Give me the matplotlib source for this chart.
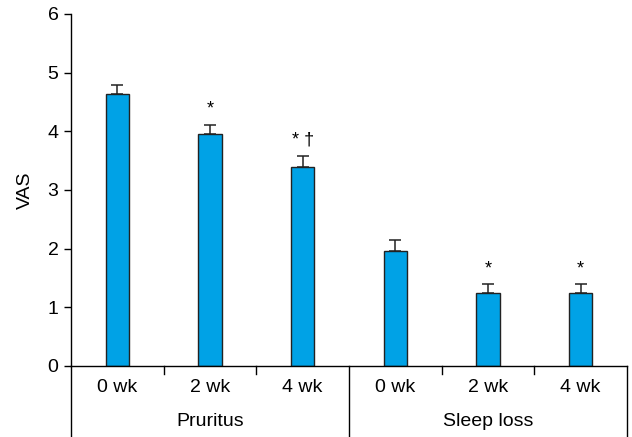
import matplotlib
matplotlib.use("Agg")
import matplotlib.pyplot as plt
import numpy as np

plt.rcParams['font.family'] = ['Liberation Sans', 'DejaVu Sans']

groups = ["Pruritus", "Sleep loss"]
weeks = ["0 wk", "2 wk", "4 wk"]
values = [4.63, 3.96, 3.39, 1.96, 1.24, 1.24]
errors = [0.16, 0.15, 0.19, 0.19, 0.15, 0.15]
marks = ["", "*", "* \u2020", "", "*", "*"]

fig = plt.figure(figsize=(6.32, 4.37), dpi=100)
ax = fig.add_axes([71/632, 71/437, 556/632, 352/437])

n = len(values)
x = np.arange(n) + 0.5
ax.bar(x, values, width=0.25, color="#00A2E6", edgecolor="#222222", linewidth=1.0, zorder=2)
ax.errorbar(x, values, yerr=[np.zeros(n), errors], fmt="none", ecolor="#222222",
            elinewidth=1.1, capsize=4.3, capthick=1.1, zorder=1)
for xi, v, e, m in zip(x, values, errors, marks):
    if m:
        ax.text(xi, v + e + 0.12, m, ha="center", va="bottom", fontsize=13)

ax.set_xlim(0, n)
ax.set_ylim(0, 6)
ax.set_yticks(range(0, 7))
ax.tick_params(axis="y", labelsize=14, length=5, width=1, direction="out", pad=4)
ax.set_xticks([])
ax.spines["top"].set_visible(False)
ax.spines["right"].set_visible(False)
ax.spines["left"].set_linewidth(1)
ax.spines["bottom"].set_linewidth(1)
ax.set_ylabel("VAS", fontsize=14, labelpad=10)

trans = ax.get_xaxis_transform()
bottom = -71/352
# group dividers
for xd in [0, 3, 6]:
    ax.plot([xd, xd], [0, bottom], transform=trans, color="black", lw=1, clip_on=False)
# minor ticks
for xt in [1, 2, 4, 5]:
    ax.plot([xt, xt], [0, -8/352], transform=trans, color="black", lw=1, clip_on=False)
# labels
for i in range(n):
    ax.text(x[i], -22/352, weeks[i % 3], transform=trans, ha="center", va="center", fontsize=14)
for g, name in enumerate(groups):
    ax.text(g * 3 + 1.5, -56/352, name, transform=trans, ha="center", va="center", fontsize=14)

fig.savefig("out.png", dpi=100)
